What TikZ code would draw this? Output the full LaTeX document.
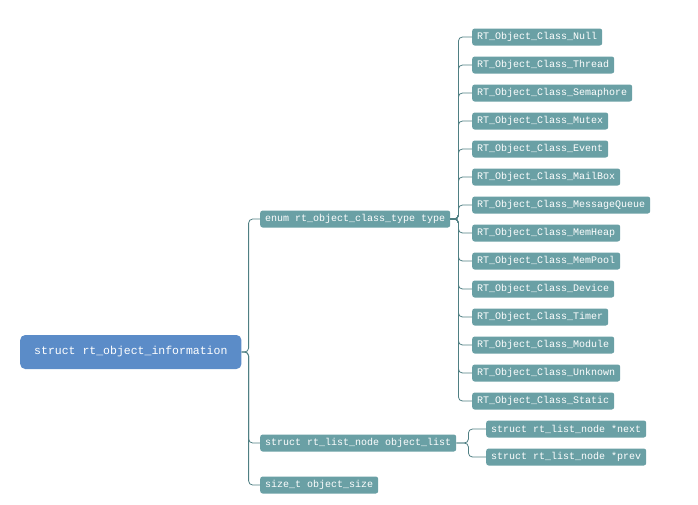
\documentclass[tikz,border=0pt]{standalone}
\usepackage{fontspec}
\setmainfont{Liberation Mono}
\definecolor{teal1}{HTML}{6AA0A5}
\definecolor{root1}{HTML}{5B8CC8}
\definecolor{ln}{HTML}{4F7F83}
\begin{document}
\begin{tikzpicture}[x=1pt,y=-1pt,
  leaf/.style={fill=teal1,text=white,rounded corners=2.5pt,anchor=west,minimum height=17pt,inner xsep=5pt,inner ysep=0pt,font=\fontsize{10}{10}\selectfont},
  conn/.style={draw=ln,line width=0.8pt,rounded corners=4pt}]
\useasboundingbox (0,0) rectangle (698,504);
\node[leaf,fill=root1,minimum height=34pt,inner xsep=14pt,font=\fontsize{11.5}{12}\selectfont,rounded corners=5pt] (root) at (20,352) {struct rt\_object\_information};
\node[leaf] (enum) at (260,219) {enum rt\_object\_class\_type type};
\node[leaf] (ol) at (260,443) {struct rt\_list\_node object\_list};
\node[leaf] (sz) at (260,485) {size\_t object\_size};
\node[leaf] (nx) at (486,429) {struct rt\_list\_node *next};
\node[leaf] (pv) at (486,457) {struct rt\_list\_node *prev};
\foreach \n [count=\i from 0] in {Null,Thread,Semaphore,Mutex,Event,MailBox,MessageQueue,MemHeap,MemPool,Device,Timer,Module,Unknown,Static}{
  \node[leaf] (c\i) at (472,37+28*\i) {RT\_Object\_Class\_\n};
  \draw[conn] (enum.east) -- ++(8,0) |- (c\i.west);
}
\foreach \c in {enum,ol,sz}{\draw[conn] (root.east) -- ++(7,0) |- (\c.west);}
\foreach \c in {nx,pv}{\draw[conn] (ol.east) -- ++(12,0) |- (\c.west);}
\end{tikzpicture}
\end{document}
